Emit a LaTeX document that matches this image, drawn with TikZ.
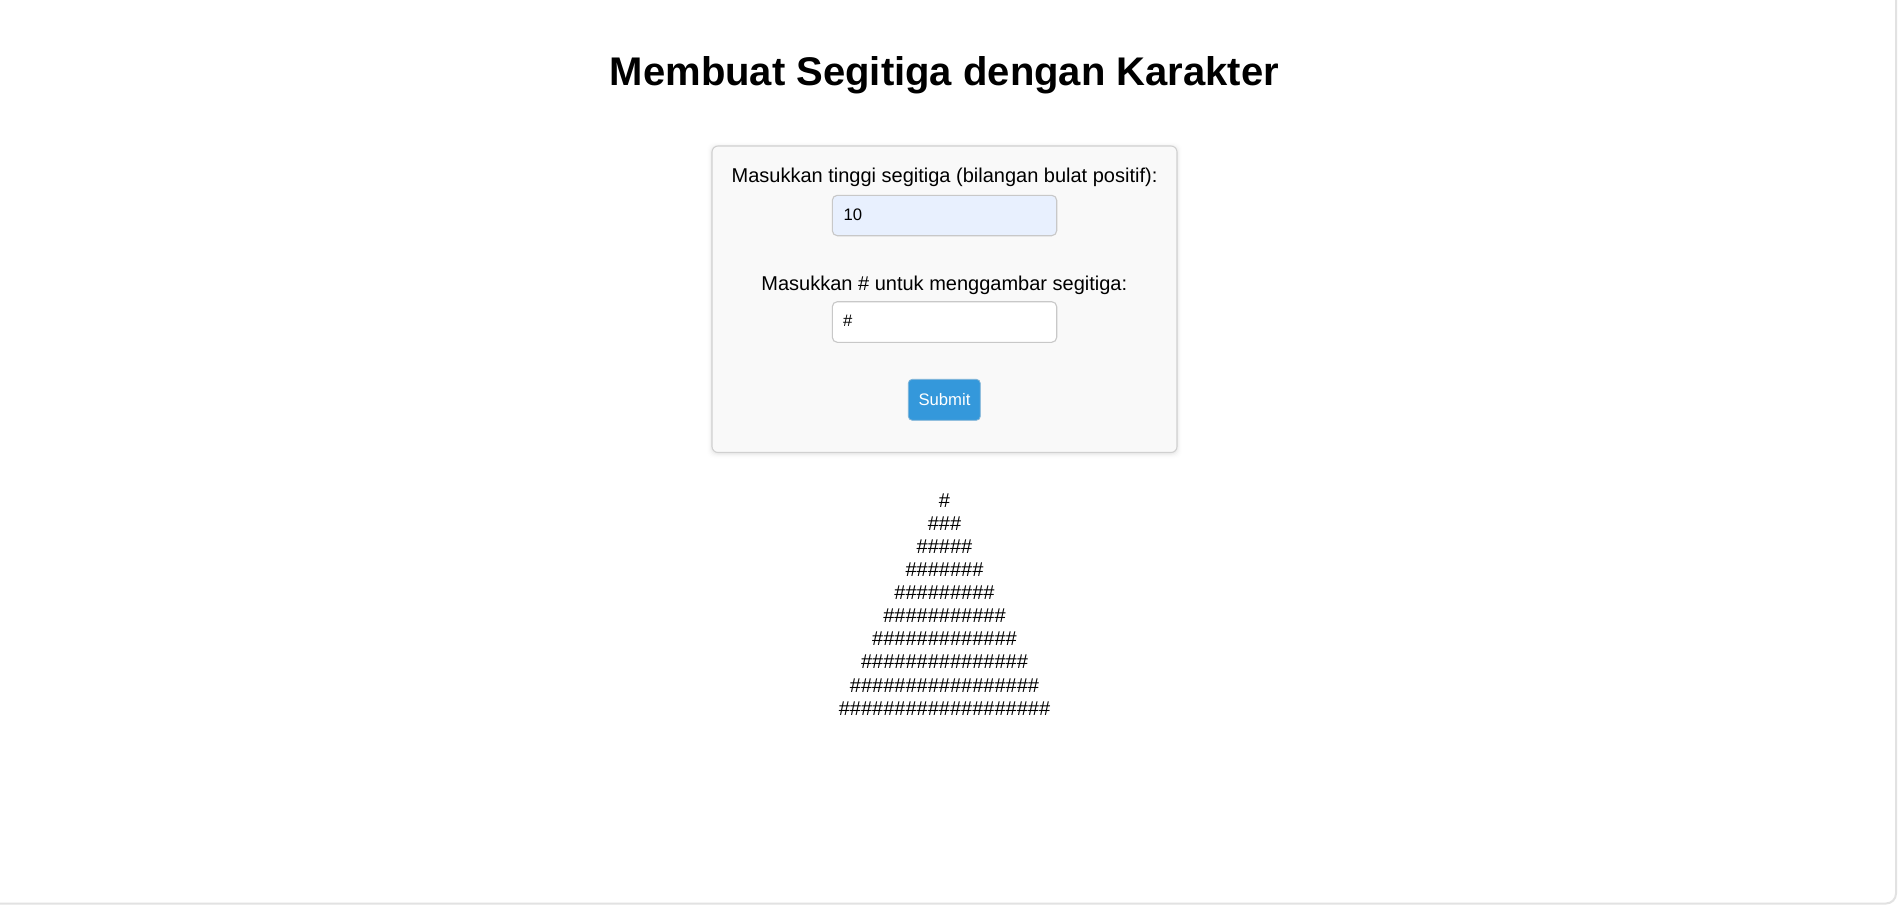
\documentclass[tikz,border=0pt]{standalone}
\usepackage{fontspec}
\setmainfont{Liberation Sans}
\definecolor{boxfill}{HTML}{F9F9F9}
\definecolor{boxline}{HTML}{D0D0D0}
\definecolor{inputline}{HTML}{C8C8C8}
\definecolor{autofill}{HTML}{E8F0FE}
\definecolor{btnblue}{HTML}{3498DB}
\definecolor{frameline}{HTML}{E2E2E2}
\tikzset{
  title/.style={font=\fontsize{40bp}{46bp}\selectfont\bfseries, inner sep=0, anchor=base},
  labeltext/.style={font=\fontsize{20bp}{23bp}\selectfont, inner sep=0, anchor=base},
  fieldtext/.style={font=\fontsize{16.67bp}{19bp}\selectfont, inner sep=0, anchor=base west},
  hashrow/.style={font=\fontsize{20bp}{23bp}\selectfont, inner sep=0, anchor=base},
  panel/.style={draw=boxline, line width=1.1bp, fill=boxfill, rounded corners=6bp, inner sep=0, outer sep=0, anchor=north west},
  field/.style={draw=inputline, line width=1.1bp, rounded corners=5bp, inner sep=0, outer sep=0, anchor=north west},
  button/.style={fill=btnblue, draw=btnblue!85!black!60!white, line width=0.8bp, rounded corners=4bp, inner sep=0, outer sep=0, anchor=north west, minimum width=72bp, minimum height=41bp},
}
\begin{document}
\begin{tikzpicture}[x=1bp,y=-1bp]
\useasboundingbox (0,0) rectangle (1900,906);
\fill[white] (0,0) rectangle (1900,906);
% page frame
\draw[frameline, line width=2bp] (1896,0) -- (1896,893.5) arc[start angle=0, end angle=90, radius=10] -- (0,903.5);
% title
\node[title] (title) at (944.5,85) {Membuat Segitiga dengan Karakter};
% panel shadow
\foreach \k/\o in {1/0.025,2/0.018,3/0.012,4/0.008,5/0.005}{
  \fill[black, opacity=\o, rounded corners=7bp] (712-\k,146-\k+1) rectangle (1177+\k,452.5+\k+1);
}
\node[panel, minimum width=465bp, minimum height=306.5bp] (panel) at (712,146) {};
% first field
\node[labeltext] (lab1) at (944.5,182) {Masukkan tinggi segitiga (bilangan bulat positif):};
\node[field, fill=autofill, minimum width=224.4bp, minimum height=40.4bp] (in1) at (832.3,195.3) {};
\node[fieldtext] (val1) at (843.5,220.7) {10};
% second field
\node[labeltext] (lab2) at (944.3,290) {Masukkan \# untuk menggambar segitiga:};
\node[field, fill=white, minimum width=224.4bp, minimum height=40.6bp] (in2) at (832.3,301.7) {};
\node[fieldtext] (val2) at (843,326.7) {\#};
% button
\node[button] (btn) at (908.3,379.3) {};
\node[font=\fontsize{16.67bp}{19bp}\selectfont, text=white, inner sep=0, anchor=base] (btntext) at (944.5,405.8) {Submit};
% triangle
\node[hashrow] (r1) at (944.5,507.7) {\#};
\node[hashrow] (r2) at (944.5,530.7) {\#\#\#};
\node[hashrow] (r3) at (944.5,553.8) {\#\#\#\#\#};
\node[hashrow] (r4) at (944.5,576.8) {\#\#\#\#\#\#\#};
\node[hashrow] (r5) at (944.5,599.8) {\#\#\#\#\#\#\#\#\#};
\node[hashrow] (r6) at (944.5,622.9) {\#\#\#\#\#\#\#\#\#\#\#};
\node[hashrow] (r7) at (944.5,645.9) {\#\#\#\#\#\#\#\#\#\#\#\#\#};
\node[hashrow] (r8) at (944.5,668.9) {\#\#\#\#\#\#\#\#\#\#\#\#\#\#\#};
\node[hashrow] (r9) at (944.5,692.0) {\#\#\#\#\#\#\#\#\#\#\#\#\#\#\#\#\#};
\node[hashrow] (r10) at (944.5,715.0) {\#\#\#\#\#\#\#\#\#\#\#\#\#\#\#\#\#\#\#};
\end{tikzpicture}
\end{document}
